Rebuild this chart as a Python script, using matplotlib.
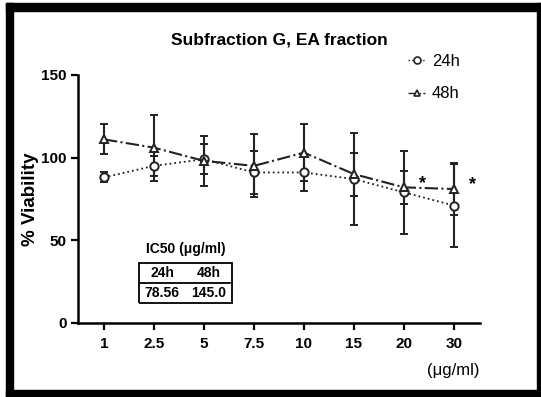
import numpy as np
import matplotlib
matplotlib.use('Agg')
import matplotlib.pyplot as plt
from matplotlib.lines import Line2D

plt.rcParams['font.family'] = ['Liberation Sans', 'DejaVu Sans']

# concentrations (ug/ml), plotted as categories
conc = ['1', '2.5', '5', '7.5', '10', '15', '20', '30']
via_24 = [88, 95, 99, 91, 91, 87, 79, 71]
err_24 = [3, 6, 9, 13, 11, 28, 25, 25]
via_48 = [111, 106, 98, 95, 103, 90, 82, 81]
err_48 = [9, 20, 15, 19, 17, 13, 10, 16]
star_48 = [6, 7]   # indices marked with *
ic50_head = ['24h', '48h']
ic50_vals = ['78.56', '145.0']

fig = plt.figure(figsize=(5.41, 3.97), dpi=100)
ax = fig.add_axes([0.1442, 0.1864, 0.743, 0.625])
x = np.arange(len(conc))

ax.errorbar(x, via_24, yerr=err_24, fmt='o', ls=':', color='#222222', lw=1.3,
            mfc='white', mec='#222222', ms=6, mew=1.4, capsize=3, elinewidth=1.5,
            capthick=1.5, zorder=3)
ax.errorbar(x, via_48, yerr=err_48, fmt='^', ls='-.', color='#222222', lw=1.5,
            mfc='white', mec='#222222', ms=6, mew=1.4, capsize=3, elinewidth=1.5,
            capthick=1.5, zorder=3)
for i in star_48:
    ax.annotate('*', (x[i], via_48[i]), xytext=(13, 3), textcoords='offset points',
                fontsize=13, fontweight='bold', ha='center', va='center')

ax.set_xlim(-0.52, 7.52)
ax.set_ylim(0, 150)
ax.set_xticks(x)
ax.set_xticklabels(conc, fontweight='bold', fontsize=11)
ax.set_yticks([0, 50, 100, 150])
ax.set_yticklabels(['0', '50', '100', '150'], fontweight='bold', fontsize=11)
ax.tick_params(width=1.6, length=5, pad=3)
ax.tick_params(axis='x', pad=5)
for s in ['top', 'right']:
    ax.spines[s].set_visible(False)
for s in ['left', 'bottom']:
    ax.spines[s].set_linewidth(1.8)
ax.set_ylabel('% Viability', fontweight='bold', fontsize=13.5, labelpad=2)
ax.text(1.0, -0.16, '(\u03bcg/ml)', transform=ax.transAxes, ha='right', va='top', fontsize=12)
ax.set_title('Subfraction G, EA fraction', fontweight='bold', fontsize=12.5, pad=22)

handles = [Line2D([], [], ls=':', marker='o', color='#222222', mfc='white', ms=5, mew=1.2, lw=1),
           Line2D([], [], ls='-.', marker='^', color='#222222', mfc='white', ms=5, mew=1.2, lw=1)]
fig.legend(handles, ic50_head, loc='upper left', bbox_to_anchor=(0.727, 0.902), frameon=False,
           fontsize=12, handlelength=1.0, labelspacing=1.05, handletextpad=0.4)

# IC50 box
ax.text(0.268, 0.30, 'IC50 (\u03bcg/ml)', transform=ax.transAxes, ha='center',
        va='center', fontweight='bold', fontsize=10)
tb = ax.table(cellText=[ic50_vals], colLabels=ic50_head, cellLoc='center',
              bbox=[0.152, 0.081, 0.231, 0.161], edges='open')
edges = {(0, 0): 'LTB', (0, 1): 'RTB', (1, 0): 'LB', (1, 1): 'RB'}
for key, cell in tb.get_celld().items():
    cell.visible_edges = edges[key]
    cell.set_linewidth(1.3)
    cell.get_text().set_fontweight('bold')
tb.auto_set_font_size(False)
tb.set_fontsize(10)

# outer black frame
W, H = 541, 397
for (x0, y0, w, h) in [(6, 3, 7, 394), (6, 3, 535, 8), (537, 3, 4, 394), (6, 390, 535, 7)]:
    fig.patches.append(plt.Rectangle((x0 / W, 1 - (y0 + h) / H), w / W, h / H,
                                     transform=fig.transFigure, color='black', zorder=0))

fig.savefig('out.png', dpi=100)
